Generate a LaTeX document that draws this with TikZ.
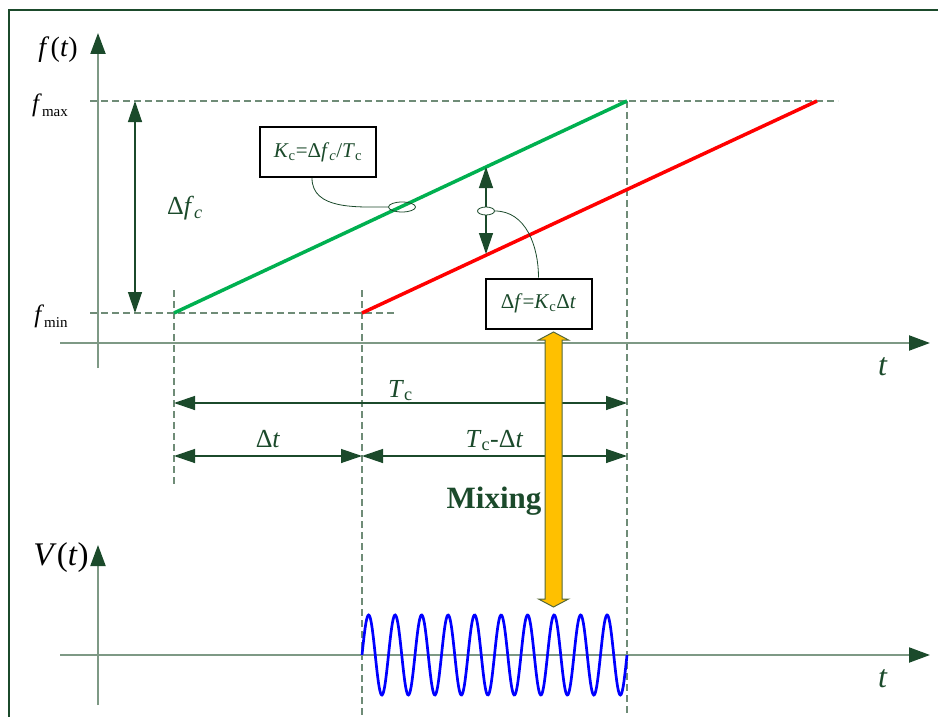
\documentclass[tikz,border=0pt]{standalone}
\usepackage{fontspec}
\setmainfont{Liberation Serif}
\usetikzlibrary{arrows.meta,shapes.geometric}
\definecolor{darkgrn}{HTML}{1B4A2B}
\definecolor{axisgrn}{HTML}{7E9985}
\definecolor{dashgrn}{HTML}{6F8C77}
\definecolor{chirpgrn}{HTML}{00B050}
\definecolor{chirpred}{HTML}{FF0000}
\definecolor{mixyel}{HTML}{FFC000}
\definecolor{mixedge}{HTML}{55683A}
\newcommand{\pxsize}[1]{\fontsize{#1}{#1}\selectfont}

\begin{document}
\begin{tikzpicture}[x=1pt,y=-1pt,
frame/.style={draw=darkgrn,line width=1.5pt},
axis/.style={draw=axisgrn,line width=2pt,-{Triangle[length=21pt,width=15pt,color=darkgrn]}},
guide/.style={draw=dashgrn,line width=1.2pt,dash pattern=on 7pt off 4pt},
dim/.style={draw=darkgrn,line width=1.3pt,{Triangle[length=21pt,width=14pt]}-{Triangle[length=21pt,width=14pt]}},
chirp/.style={line width=3.5pt},
lbl/.style={text=darkgrn,inner sep=0pt},
blk/.style={text=black,inner sep=0pt},
note/.style={draw=black,line width=2pt,fill=white,text=darkgrn,minimum height=50pt,inner sep=0pt,font=\pxsize{21}},
lead/.style={draw=darkgrn,line width=0.8pt},
ring/.style={ellipse,draw=darkgrn,line width=0.8pt,inner sep=0pt},
mix/.style={draw=mixedge,line width=1pt,fill=mixyel},
wave/.style={draw=blue,line width=2.7pt}]
\useasboundingbox (0,0) rectangle (938,717);
% frame
\draw[frame] (9,717) -- (9,10) -- (938,10);
% key points of the two chirps
\coordinate (tstart) at (174,313);
\coordinate (tdelay) at (362,313);
\coordinate (tend) at (627,101);
\coordinate (tend2) at (817,101);
\coordinate (tcrow) at (0,403);
\coordinate (dtrow) at (0,456);
% guides
\draw[guide] (90,101) -- (838,101);
\draw[guide] (90,313) -- (395,313);
\draw[guide] (174,290) -- (174,485);
\draw[guide] (362,290) -- (362,717);
\draw[guide] (tend) -- (627,717);
% chirps
\draw[chirp,chirpgrn] (tstart) -- (tend);
\draw[chirp,chirpred] (tdelay) -- (tend2);
% upper axes
\draw[axis] (60,343) -- (930,343);
\draw[axis] (98,368) -- (98,33);
\node[blk,font=\pxsize{28},anchor=base] (ft) at (58,57) {\textit{f\,}(\textit{t})};
\node[lbl,font=\pxsize{32},anchor=base] (tup) at (883,375) {\textit{t}};
\node[blk,font=\pxsize{25}] (fmax) at (50,105) {\textit{f}\raisebox{-5pt}{\pxsize{15}max}};
\node[blk,font=\pxsize{25}] (fmin) at (51,316) {\textit{f}\raisebox{-5pt}{\pxsize{15}min}};
% frequency span
\draw[dim] (135,101) -- (135,313);
\node[lbl,font=\pxsize{26}] (dfc) at (185,208) {Δ\textit{f}\textsubscript{\textit{c}}};
% slope note
\node[note,minimum width=116pt] (kbox) at (318,152) {\textit{K}\textsubscript{c}=Δ\textit{f}\textsubscript{\textit{c}}/\textit{T}\textsubscript{c}};
\node[ring,minimum width=27pt,minimum height=10pt] (kring) at (402,207) {};
\draw[lead] ([xshift=-6pt]kbox.south) to[out=-90,in=180] (kring.west);
% beat frequency
\coordinate (dftop) at (486,167);
\coordinate (dfbot) at (486,254);
\draw[dim] (dftop) -- (dfbot);
\node[ring,minimum width=17pt,minimum height=8pt,fill=white] (dring) at (486,211) {};
\node[note,minimum width=106pt] (dbox) at (538.5,303.5) {Δ\textit{f}=\textit{K}\textsubscript{c}Δ\textit{t}};
\draw[lead] (dring.east) to[out=0,in=90] (dbox.north);
% time spans
\draw[dim] (tstart |- tcrow) -- (tend |- tcrow);
\node[lbl,font=\pxsize{26},anchor=base] (tc) at (400.5,397) {\textit{T}\textsubscript{c}};
\draw[dim] (tstart |- dtrow) -- (tdelay |- dtrow);
\draw[dim] (tdelay |- dtrow) -- (tend |- dtrow);
\node[lbl,font=\pxsize{26},anchor=base] (dt) at (268,447) {Δ\textit{t}};
\node[lbl,font=\pxsize{26},anchor=base] (tcdt) at (494.5,447) {\textit{T}\textsubscript{c}-Δ\textit{t}};
% mixing
\coordinate (mixtop) at (553.5,332);
\coordinate (mixbot) at (553.5,607);
\draw[mix] (mixtop) -- ++(15,8) -- ++(-6.5,0) -- ++(0,259) -- ++(6.5,0) -- (mixbot)
  -- ++(-15,-8) -- ++(6.5,0) -- ++(0,-259) -- ++(-6.5,0) -- cycle;
\node[lbl,font=\pxsize{31}\bfseries,anchor=base] (mixing) at (494,508) {Mixing};
% lower axes
\draw[axis] (60,655) -- (930,655);
\draw[axis] (98,705) -- (98,545);
\node[blk,font=\pxsize{33},anchor=base] (vt) at (61,565) {\textit{V}(\textit{t})};
\node[lbl,font=\pxsize{32},anchor=base] (tlow) at (883,687) {\textit{t}};
% beat signal
\draw[wave] plot[domain=0:265,samples=400,smooth] ({362+\x},{655-40*sin(13.5849*\x)});
\end{tikzpicture}
\end{document}
